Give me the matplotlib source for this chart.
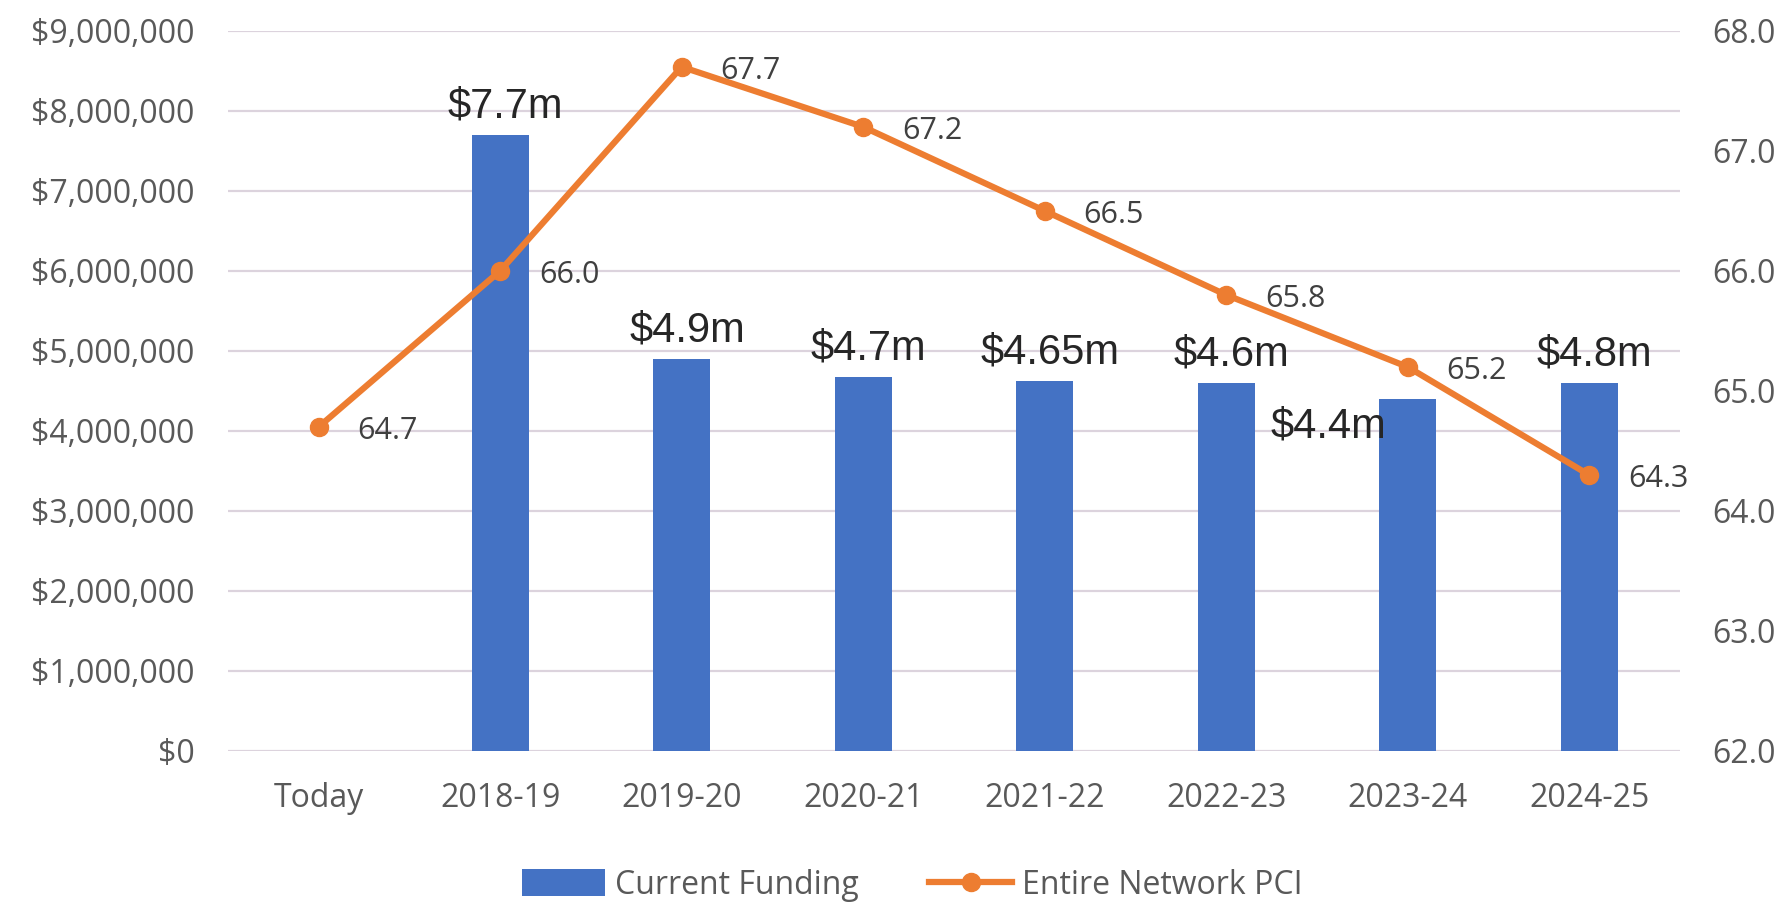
import matplotlib.pyplot as plt
from matplotlib.ticker import FuncFormatter

# categories and values
years = ['Today', '2018-19', '2019-20', '2020-21', '2021-22', '2022-23', '2023-24', '2024-25']
funding = [0, 7700000, 4900000, 4670000, 4630000, 4600000, 4400000, 4600000]
funding_labels = ['', '$7.7m', '$4.9m', '$4.7m', '$4.65m', '$4.6m', '$4.4m', '$4.8m']
pci = [64.7, 66.0, 67.7, 67.2, 66.5, 65.8, 65.2, 64.3]

blue = '#4472C4'
orange = '#ED7D31'
grey = '#595959'

plt.rcParams['font.family'] = ['Open Sans', 'DejaVu Sans']

fig = plt.figure(figsize=(17.89, 9.07), dpi=100)
ax = fig.add_axes([0.1274, 0.172, 0.8116, 0.794])
x = list(range(len(years)))

ax.bar(x, funding, width=0.315, color=blue, zorder=2, label='Current Funding')
ax.set_xlim(-0.5, len(years) - 0.5)
ax.set_ylim(0, 9000000)
ax.set_yticks(range(0, 9000001, 1000000))
ax.yaxis.set_major_formatter(FuncFormatter(lambda v, p: '${:,.0f}'.format(v)))
ax.grid(axis='y', color='#dcd3dd', linewidth=1.6, zorder=0)
ax.set_xticks(x)
ax.set_xticklabels(years)
for s in ax.spines.values():
    s.set_visible(False)
ax.tick_params(axis='both', length=0, labelsize=23, colors=grey)
ax.tick_params(axis='y', pad=24)
ax.tick_params(axis='x', pad=22)

# bar labels (the 2023-24 one sits left of its bar)
for i, (v, t) in enumerate(zip(funding, funding_labels)):
    if not t:
        continue
    if years[i] == '2023-24':
        ax.annotate(t, (i, v), xytext=(-57, -20), textcoords='offset points',
                    ha='center', va='center', fontsize=30, color='#262626',
                    family='Liberation Sans')
    else:
        ax.annotate(t, (i, v), xytext=(4, 6), textcoords='offset points',
                    ha='center', va='bottom', fontsize=30, color='#262626',
                    family='Liberation Sans')

ax2 = ax.twinx()
ax2.plot(x, pci, color=orange, linewidth=4.5, marker='o', markersize=13,
         zorder=3, label='Entire Network PCI')
ax2.set_ylim(62, 68)
ax2.set_yticks([62, 63, 64, 65, 66, 67, 68])
ax2.yaxis.set_major_formatter(FuncFormatter(lambda v, p: '{:.1f}'.format(v)))
for s in ax2.spines.values():
    s.set_visible(False)
ax2.tick_params(axis='y', length=0, labelsize=23, colors=grey, pad=23)

for i, v in enumerate(pci):
    ax2.annotate('{:.1f}'.format(v), (i, v), xytext=(28, -3), textcoords='offset points',
                 ha='left', va='center', fontsize=22, color='#404040')

h1, l1 = ax.get_legend_handles_labels()
h2, l2 = ax2.get_legend_handles_labels()
fig.legend(h1 + h2, l1 + l2, loc='center', bbox_to_anchor=(0.51, 0.024), ncol=2,
           frameon=False, fontsize=23, labelcolor=grey, handlelength=2.6,
           handleheight=0.9, columnspacing=2.2, handletextpad=0.3)

fig.savefig('out.png', dpi=100)
